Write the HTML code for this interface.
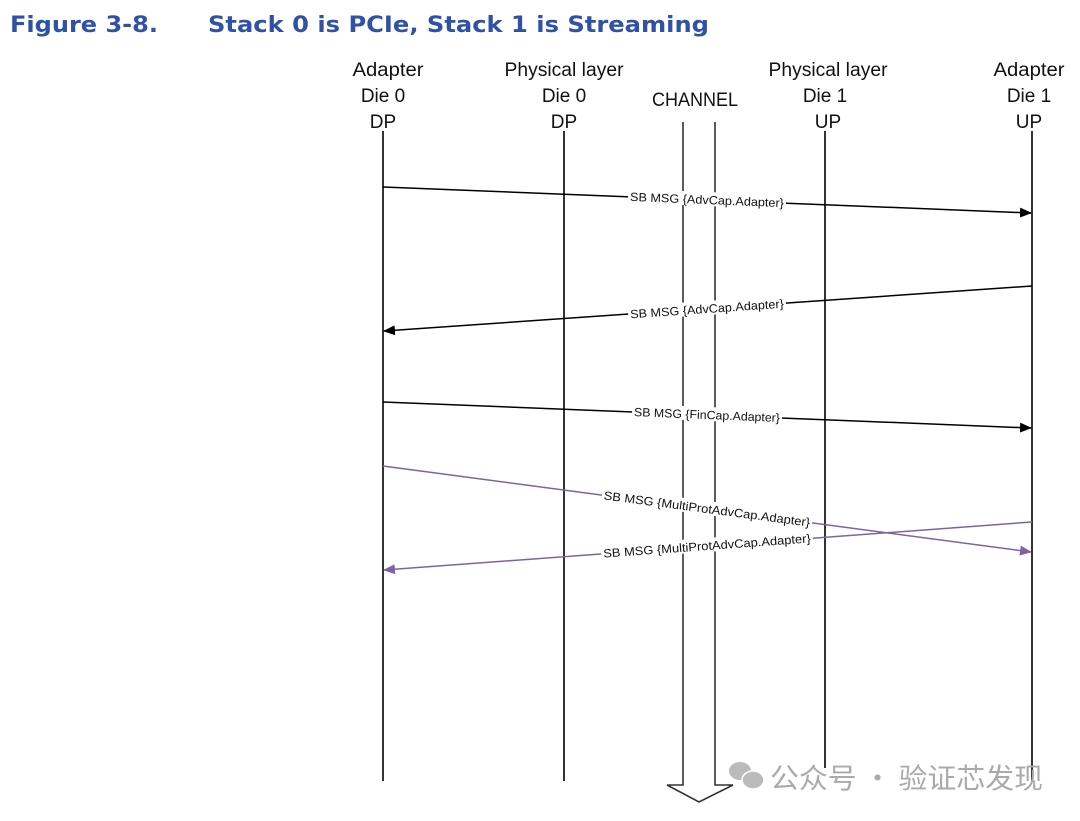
<!DOCTYPE html>
<html><head><meta charset="utf-8"><style>
html,body{margin:0;padding:0;background:#fff;}
svg{display:block;}
</style></head><body>
<svg width="1080" height="821" viewBox="0 0 1080 821" xmlns="http://www.w3.org/2000/svg">
<defs>
<marker id="ab" markerWidth="12" markerHeight="10" refX="11" refY="5" orient="auto" markerUnits="userSpaceOnUse"><path d="M0,0 L12,5 L0,10 z" fill="#000"/></marker>
<marker id="ap" markerWidth="12" markerHeight="10" refX="11" refY="5" orient="auto" markerUnits="userSpaceOnUse"><path d="M0,0 L12,5 L0,10 z" fill="#7b64a3"/></marker>
</defs>
<g font-family="'DejaVu Sans',sans-serif" font-weight="bold" font-size="22" fill="#2f51a6">
<text x="10" y="32" textLength="148" lengthAdjust="spacingAndGlyphs">Figure 3-8.</text>
<text x="208" y="32" textLength="501" lengthAdjust="spacingAndGlyphs">Stack 0 is PCIe, Stack 1 is Streaming</text>
</g>
<g font-family="'Liberation Sans',sans-serif" font-size="19" fill="#111" text-anchor="middle">
<text x="388" y="76" textLength="71" lengthAdjust="spacingAndGlyphs">Adapter</text><text x="383" y="102">Die 0</text><text x="383" y="128">DP</text>
<text x="564" y="76" textLength="119" lengthAdjust="spacingAndGlyphs">Physical layer</text><text x="564" y="102">Die 0</text><text x="564" y="128">DP</text>
<text x="695" y="106" textLength="86" lengthAdjust="spacingAndGlyphs">CHANNEL</text>
<text x="828" y="76" textLength="119" lengthAdjust="spacingAndGlyphs">Physical layer</text><text x="825" y="102">Die 1</text><text x="828" y="128">UP</text>
<text x="1029" y="76" textLength="71" lengthAdjust="spacingAndGlyphs">Adapter</text><text x="1029" y="102">Die 1</text><text x="1029" y="128">UP</text>
</g>
<g stroke="#000" stroke-width="1.6" fill="none">
<line x1="383" y1="131" x2="383" y2="781"/>
<line x1="564" y1="131" x2="564" y2="781"/>
<line x1="825" y1="131" x2="825" y2="768"/>
<line x1="1032" y1="131" x2="1032" y2="781"/>
<path d="M683,122 L683,785 L667,785 L699,802 L733,785 L715,785 L715,122" stroke="#333" fill="#fff"/>
</g>
<g stroke-width="1.5">
<line x1="383" y1="187" x2="1031" y2="213" stroke="#000" marker-end="url(#ab)"/>
<line x1="1032" y1="286" x2="384" y2="331" stroke="#000" marker-end="url(#ab)"/>
<line x1="383" y1="402" x2="1031" y2="428" stroke="#000" marker-end="url(#ab)"/>
<line x1="383" y1="466" x2="1031" y2="552" stroke="#7b64a3" marker-end="url(#ap)"/>
<line x1="1032" y1="522" x2="384" y2="570" stroke="#7b64a3" marker-end="url(#ap)"/>
</g>
<g font-family="'Liberation Sans',sans-serif" font-size="12" fill="#111" text-anchor="middle">
<g transform="translate(707,200) rotate(2.3)"><rect x="-79" y="-8" width="158" height="14" fill="#fff"/><text y="4" textLength="154" lengthAdjust="spacingAndGlyphs">SB MSG {AdvCap.Adapter}</text></g>
<g transform="translate(707,309) rotate(-4)"><rect x="-79" y="-8" width="158" height="14" fill="#fff"/><text y="4" textLength="154" lengthAdjust="spacingAndGlyphs">SB MSG {AdvCap.Adapter}</text></g>
<g transform="translate(707,415) rotate(2.3)"><rect x="-75" y="-8" width="150" height="14" fill="#fff"/><text y="4" textLength="146" lengthAdjust="spacingAndGlyphs">SB MSG {FinCap.Adapter}</text></g>
<g transform="translate(707,509) rotate(7.5)"><rect x="-106" y="-8" width="212" height="14" fill="#fff"/><text y="4" textLength="208" lengthAdjust="spacingAndGlyphs">SB MSG {MultiProtAdvCap.Adapter}</text></g>
<g transform="translate(707,546) rotate(-4.2)"><rect x="-106" y="-8" width="212" height="14" fill="#fff"/><text y="4" textLength="208" lengthAdjust="spacingAndGlyphs">SB MSG {MultiProtAdvCap.Adapter}</text></g>
</g>
<g fill="#bbb">
<ellipse cx="740" cy="771" rx="11" ry="9"/>
<ellipse cx="753" cy="780" rx="11" ry="9" stroke="#fff" stroke-width="1.5"/>
</g>
<text x="770" y="788" font-family="'Noto Sans CJK SC',sans-serif" font-size="28" fill="#aaa" textLength="273" lengthAdjust="spacingAndGlyphs">公众号 · 验证芯发现</text>
</svg>
</body></html>
